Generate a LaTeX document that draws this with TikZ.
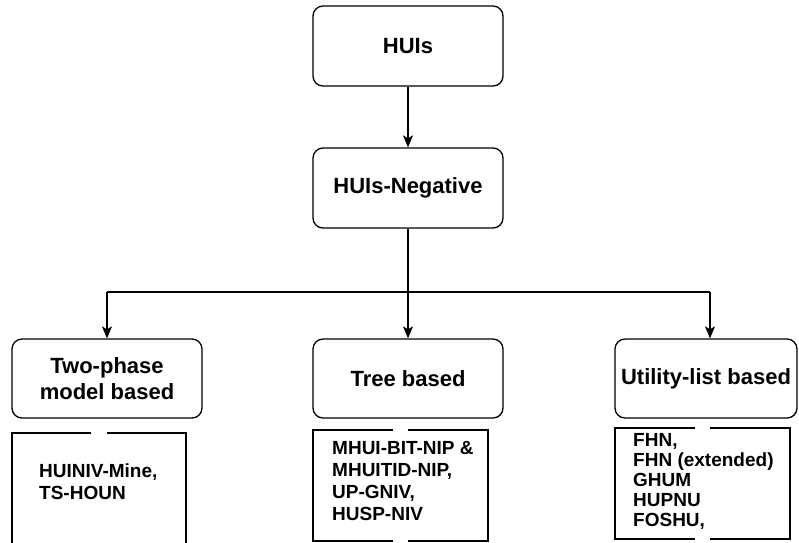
\documentclass[tikz,border=0pt]{standalone}
\usepackage{fontspec}
\setmainfont{Liberation Sans}
\usetikzlibrary{arrows.meta}

\begin{document}
\begin{tikzpicture}[x=1pt,y=-1pt,
    box/.style={draw, line width=1.3pt, rounded corners=10pt, minimum width=190pt, minimum height=80pt, align=center, font=\bfseries\fontsize{22}{26}\selectfont},
    listbox/.style={draw, line width=1.3pt},
    listtext/.style={anchor=north west, inner sep=0pt, align=left, font=\bfseries\fontsize{19}{22}\selectfont},
    arr/.style={line width=1.3pt, -{Stealth[length=12pt,width=10pt,inset=3pt]}},
    gapline/.style={white, line width=3pt}]
				\useasboundingbox (0,0) rectangle (799,542);

				\node[box] (hui) at (408,46) {HUIs};
				\node[box] (neg) at (408,188) {HUIs-Negative};
				\node[box, minimum height=79pt] (two) at (107,378.5) {Two-phase\\model based};
				\node[box, minimum height=79pt] (tree) at (408,378.5) {Tree based};
				\node[box, minimum height=79pt, minimum width=182pt] (util) at (706,378.5) {Utility-list based};

				\coordinate (j) at (408,292);
				\coordinate (jl) at (107,292);
				\coordinate (jr) at (710,292);

				\draw[arr] (hui) -- (neg);
				\draw[line width=1.3pt] (neg) -- (j);
				\draw[line width=1.3pt] (jl) -- (jr);
				\draw[arr] (jl) -- (two);
				\draw[arr] (j) -- (tree);
				\draw[arr] (jr) -- (jr |- util.north);

				\node[listbox, minimum width=174pt, minimum height=127pt] (twolist) at (99,496.5) {};
				\node[listbox, minimum width=175pt, minimum height=111pt] (treelist) at (400.5,485.5) {};
				\node[listbox, minimum width=175pt, minimum height=111pt] (utillist) at (702.5,483.5) {};

				\draw[gapline] (91,433) -- (107,433);
				\draw[gapline] (393,430) -- (408,430);
				\draw[gapline] (393,541) -- (408,541);
				\draw[gapline] (695,428) -- (710,428);
				\draw[gapline] (695,539) -- (710,539);

				\node[listtext] (twotext) at (39,464) {HUINIV-Mine,\\TS-HOUN};
				\node[listtext] (treetext) at (332,441) {MHUI-BIT-NIP \&\\MHUITID-NIP,\\UP-GNIV,\\HUSP-NIV};
				\node[listtext, font=\bfseries\fontsize{19}{20}\selectfont] (utiltext) at (633,433) {FHN,\\FHN (extended)\\GHUM\\HUPNU\\FOSHU,};

			\end{tikzpicture}
\end{document}
